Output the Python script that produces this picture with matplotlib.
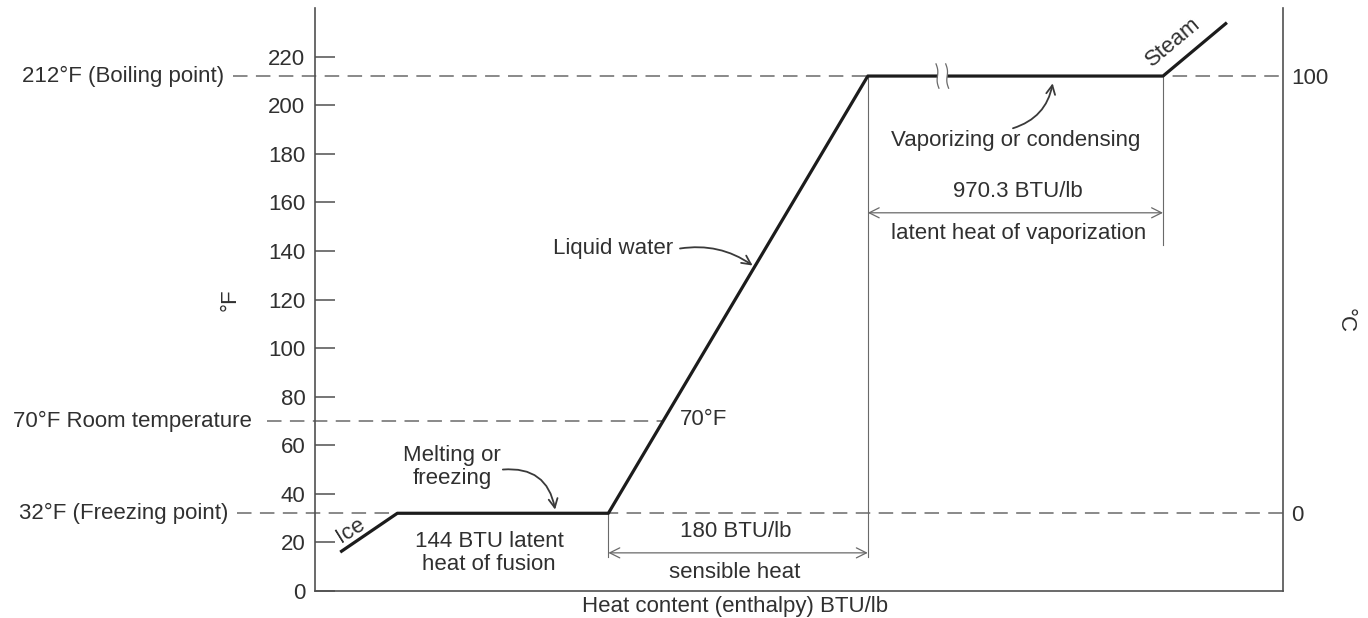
import matplotlib
matplotlib.use("Agg")
import matplotlib.pyplot as plt
import numpy as np

# heating curve of water, x is schematic enthalpy position, y is deg F
curveX = [26, 85, 303, 571, 876, 942]
curveY = [16, 32, 32, 212, 212, 234]
refTemps = [212, 70, 32]
refLabels = ["212°F (Boiling point)", "70°F Room temperature", "32°F (Freezing point)"]
refLabelX = [-94, -65, -90]
refDashX = [-85, -50, -81]
fTicks = list(range(0, 221, 20))
cTicks = [0, 100]

plt.rcParams["font.family"] = ["Liberation Sans", "DejaVu Sans"]
plt.rcParams["font.size"] = 16
textColor = "#303030"
lineColor = "#1c1c1c"
grey = "#6a6a6a"

figure = plt.figure(figsize=(13.68, 6.18), dpi=100)
axes = figure.add_axes([0.2303, 0.0437, 0.7076, 0.9433])
axes.set_xlim(0, 1000)
axes.set_ylim(0, 240)
axes.spines["top"].set_visible(False)
for side in ["left", "right", "bottom"]:
    axes.spines[side].set_color("#505050")
    axes.spines[side].set_linewidth(1.2)

axes.set_xticks([])
axes.set_yticks(fTicks)
axes.tick_params(axis="y", direction="in", length=14.5, width=1.1, color="#505050",
                 pad=7, labelsize=16, labelcolor=textColor)
axes.set_ylabel("°F", color=textColor, labelpad=20)
axes.set_xlabel("Heat content (enthalpy) BTU/lb", color=textColor)
axes.xaxis.set_label_coords(0.434, -0.008)

right = axes.secondary_yaxis("right", functions=(lambda f: (f - 32) / 1.8, lambda c: c * 1.8 + 32))
right.set_yticks(cTicks)
right.spines["right"].set_visible(False)
right.tick_params(length=0, pad=6, labelsize=16, labelcolor=textColor)
figure.text(0.983, 0.482, "°C", rotation=270, ha="center", va="center", color=textColor, fontsize=16)

# reference temperature lines
boilX = np.interp(70, curveY[2:4], curveX[2:4])
for temp, label, lx, dx in zip(refTemps, refLabels, refLabelX, refDashX):
    endX = boilX if temp == 70 else 1000
    axes.plot([dx, endX], [temp, temp], color=grey, linewidth=1.1, dashes=(9.5, 5.5), clip_on=False, zorder=1)
    axes.text(lx, temp, label, ha="right", va="center", color=textColor, clip_on=False)

# thin extension lines
axes.plot([curveX[2], curveX[2]], [curveY[2], 14], color=grey, linewidth=0.8)
axes.plot([curveX[3], curveX[3]], [curveY[3], 14], color=grey, linewidth=0.8)
axes.plot([curveX[4], curveX[4]], [curveY[4], 142.5], color=grey, linewidth=0.8)

axes.plot(curveX, curveY, color=lineColor, linewidth=2.3, solid_capstyle="butt", zorder=3)

# axis break on the vaporization plateau
breakX = [643, 653]
axes.axvspan(breakX[0] + 1, breakX[1] - 1, ymin=209 / 240, ymax=215 / 240, color="white", zorder=4)
t = np.linspace(-1, 1, 30)
for bx in breakX:
    axes.plot(bx + 1.0 * np.sin(t * np.pi) - t * 1.5, 212 + t * 5, color=grey, linewidth=0.9, zorder=5)

dimArrow = dict(arrowstyle="<->", color=grey, linewidth=0.9, shrinkA=0, shrinkB=0, mutation_scale=18)
axes.annotate("", xy=(curveX[2], 15.7), xytext=(curveX[3], 15.7), arrowprops=dimArrow)
axes.annotate("", xy=(curveX[3], 155.7), xytext=(curveX[4], 155.7), arrowprops=dimArrow)

axes.text(435, 20.2, "180 BTU/lb", ha="center", va="bottom", color=textColor)
axes.text(434, 12.0, "sensible heat", ha="center", va="top", color=textColor)
axes.text(726, 160.0, "970.3 BTU/lb", ha="center", va="bottom", color=textColor)
axes.text(727, 151.5, "latent heat of vaporization", ha="center", va="top", color=textColor)
axes.text(724, 185.4, "Vaporizing or condensing", ha="center", va="center", color=textColor)
axes.text(180, 15.7, "144 BTU latent\nheat of fusion", ha="center", va="center", color=textColor, linespacing=1.15)
axes.text(141.5, 51, "Melting or\nfreezing", ha="center", va="center", color=textColor, linespacing=1.15)
axes.text(377, 70.5, "70°F", ha="left", va="center", color=textColor)
axes.text(370, 141, "Liquid water", ha="right", va="center", color=textColor)
axes.text(37, 25, "Ice", ha="center", va="center", rotation=32, color=textColor)
axes.text(886, 225.8, "Steam", ha="center", va="center", rotation=40, color=textColor)

curved = dict(arrowstyle="->", color="#3a3a3a", linewidth=1.3, shrinkA=0, shrinkB=0, mutation_scale=16)
axes.annotate("", xy=(248, 33.5), xytext=(194, 50),
              arrowprops=dict(curved, connectionstyle="arc3,rad=-0.45"))
axes.annotate("", xy=(452, 134), xytext=(377, 141),
              arrowprops=dict(curved, connectionstyle="arc3,rad=-0.2"))
axes.annotate("", xy=(762, 209), xytext=(721, 190.5),
              arrowprops=dict(curved, connectionstyle="arc3,rad=0.3"))

figure.savefig("out.png", dpi=100)
plt.close(figure)
